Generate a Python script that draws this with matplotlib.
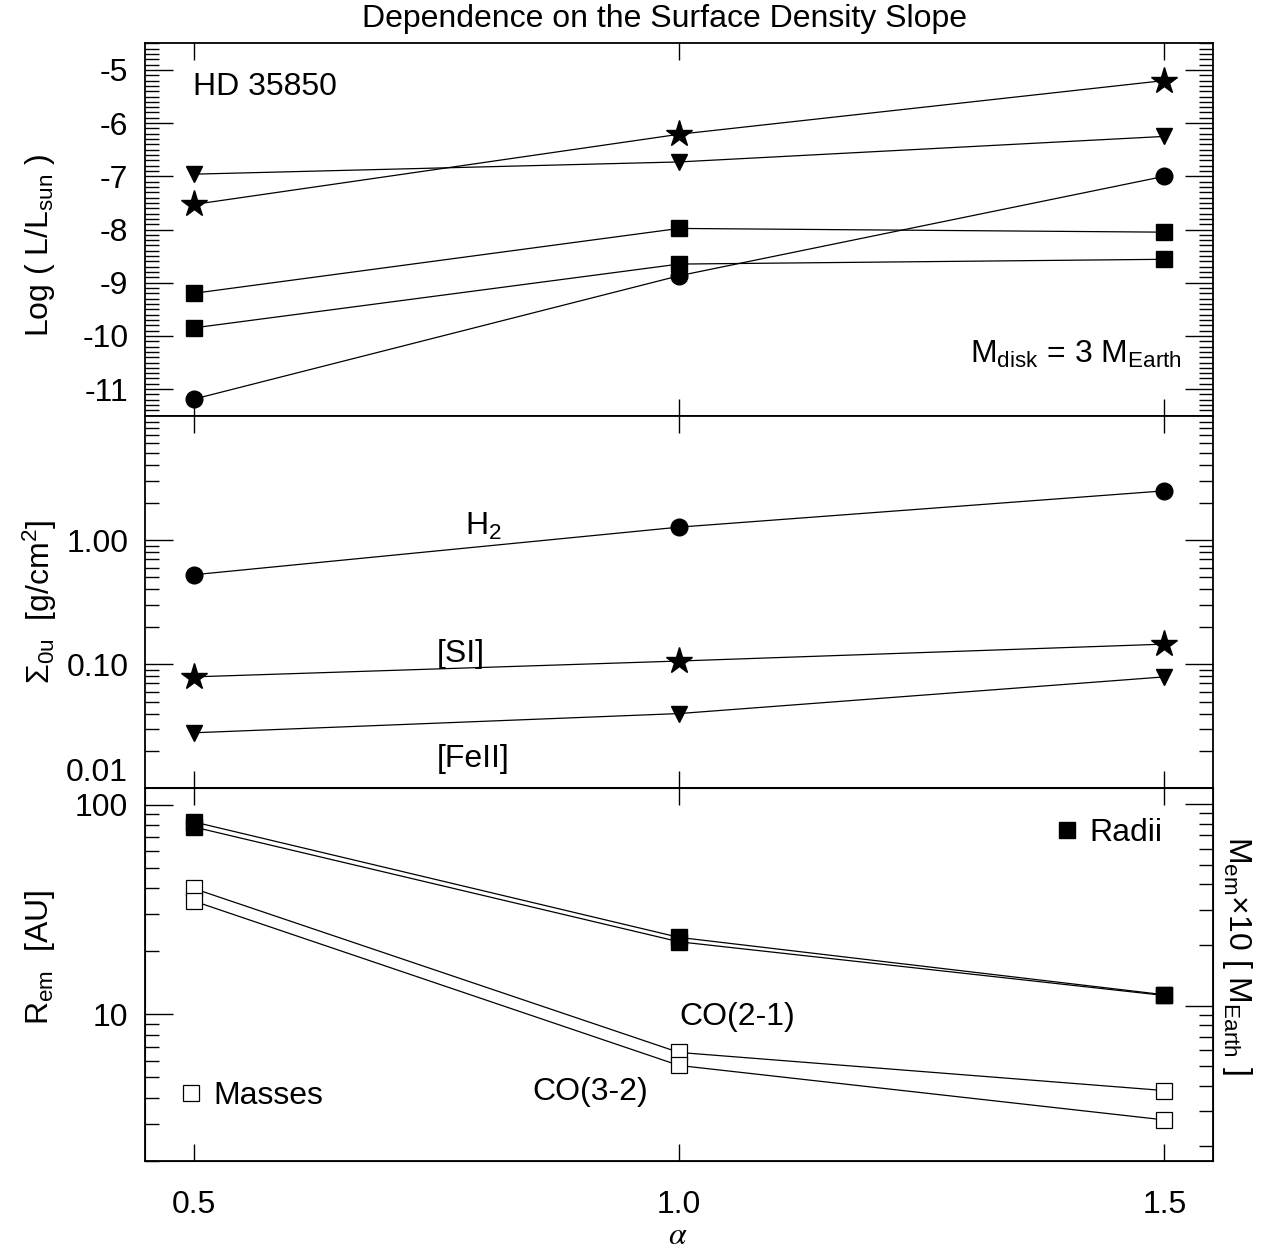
"""
Dependence of line luminosity, surface density and emitting radius/mass
on the surface density slope alpha (HD 35850).
"""

import numpy as np
import matplotlib
matplotlib.use("Agg")
import matplotlib.pyplot as plt
import matplotlib.transforms as mtransforms
from matplotlib.lines import Line2D
from matplotlib.ticker import MultipleLocator, FixedLocator, FuncFormatter, LogLocator, NullFormatter

plt.rcParams["font.family"] = ["Liberation Sans", "DejaVu Sans"]
plt.rcParams["mathtext.fontset"] = "custom"
plt.rcParams["mathtext.rm"] = "Liberation Sans"
plt.rcParams["mathtext.it"] = "Liberation Sans:italic"
plt.rcParams["axes.unicode_minus"] = False

# ─── DATA ─────────────────────────────────────────────────────────────────────
alpha = [0.5, 1.0, 1.5]

# top panel: log(L/Lsun)
lum_star   = [-7.53, -6.21, -5.20]
lum_tri    = [-6.96, -6.73, -6.25]
lum_circle = [-11.19, -8.87, -7.00]
lum_sq_a   = [-9.20, -7.98, -8.05]
lum_sq_b   = [-9.85, -8.65, -8.56]

# middle panel: Sigma_0u [g/cm^2]
sig_h2   = [0.525, 1.27, 2.49]
sig_si   = [0.079, 0.106, 0.145]
sig_feii = [0.028, 0.040, 0.079]

# bottom panel: radii [AU] (left axis) and masses x10 [M_Earth] (right axis)
radii_co21  = [83.0, 23.3, 12.4]
radii_co32  = [78.5, 22.2, 12.3]
masses_co21 = [38.2, 5.86, 3.79]
masses_co32 = [33.1, 5.05, 2.71]

W, H = 1262, 1251
fig = plt.figure(figsize=(W / 100, H / 100), dpi=100)

left, width = 145 / W, 1068 / W
ph = 372.4 / H
ax1 = fig.add_axes([left, 1 - 415.7 / H, width, ph])
ax2 = fig.add_axes([left, 1 - 788.3 / H, width, ph])
ax3 = fig.add_axes([left, 1 - 1160.7 / H, width, ph])

line_kw = dict(color="black", lw=0.9)
FS = 23


def style(ax, right=True):
    ax.set_xlim(0.45, 1.55)
    ax.xaxis.set_major_locator(FixedLocator(alpha))
    ax.tick_params(axis="x", which="major", direction="in", top=True, bottom=True,
                   length=12, width=1, labelsize=FS, pad=21)
    ax.tick_params(axis="y", which="major", direction="in", left=True, right=right,
                   length=20, width=1, labelsize=FS, pad=12)
    ax.tick_params(axis="y", which="minor", direction="in", left=True, right=right,
                   length=10, width=1)
    for sp in ax.spines.values():
        sp.set_linewidth(1.3)


# ─── TOP PANEL ────────────────────────────────────────────────────────────────
ax1.plot(alpha, lum_star, marker="*", ms=20, **line_kw)
ax1.plot(alpha, lum_tri, marker="v", ms=12, **line_kw)
ax1.plot(alpha, lum_circle, marker="o", ms=12, **line_kw)
ax1.plot(alpha, lum_sq_a, marker="s", ms=12, **line_kw)
ax1.plot(alpha, lum_sq_b, marker="s", ms=12, **line_kw)
ax1.set_ylim(-11.5, -4.5)
ax1.yaxis.set_major_locator(MultipleLocator(1))
ax1.yaxis.set_minor_locator(MultipleLocator(0.1))
ax1.yaxis.set_major_formatter(FuncFormatter(lambda v, p: f"{v:.0f}"))
style(ax1)
ax1.tick_params(axis="x", labelbottom=False)
ax1.text(0.045, 0.883, "HD 35850", transform=ax1.transAxes, fontsize=FS, va="center")
ax1.text(0.971, 0.142, r"M$_{\rm disk}$ = 3 M$_{\rm Earth}$", transform=ax1.transAxes,
         fontsize=FS, ha="right", va="baseline")

# ─── MIDDLE PANEL ─────────────────────────────────────────────────────────────
ax2.plot(alpha, sig_h2, marker="o", ms=12, **line_kw)
ax2.plot(alpha, sig_si, marker="*", ms=20, **line_kw)
ax2.plot(alpha, sig_feii, marker="v", ms=12, **line_kw)
ax2.set_yscale("log")
ax2.set_ylim(0.01, 10)
ax2.yaxis.set_major_locator(FixedLocator([0.01, 0.1, 1.0]))
ax2.yaxis.set_minor_locator(LogLocator(base=10, subs=np.arange(2, 10)))
# the 0.01 label is drawn separately, lifted above the panel boundary
ax2.yaxis.set_major_formatter(FuncFormatter(lambda v, p: "" if v < 0.05 else f"{v:.2f}"))
ax2.yaxis.set_minor_formatter(NullFormatter())
style(ax2)
ax2.tick_params(axis="x", labelbottom=False)
blend = mtransforms.blended_transform_factory(ax2.transAxes, ax2.transData)
ax2.text(-17 / 1068, 0.01, "0.01", transform=blend, fontsize=FS, ha="right", va="bottom")
ax2.text(0.2996, 0.680, r"H$_2$", transform=ax2.transAxes, fontsize=FS, va="baseline")
ax2.text(0.273, 0.340, "[SI]", transform=ax2.transAxes, fontsize=FS, va="baseline")
ax2.text(0.273, 0.058, "[FeII]", transform=ax2.transAxes, fontsize=FS, va="baseline")

# ─── BOTTOM PANEL ─────────────────────────────────────────────────────────────
ax3.plot(alpha, radii_co21, marker="s", ms=12, **line_kw)
ax3.plot(alpha, radii_co32, marker="s", ms=12, **line_kw)
ax3.set_yscale("log")
ax3.set_ylim(2, 120)
ax3.yaxis.set_major_locator(FixedLocator([10, 100]))
ax3.yaxis.set_minor_locator(LogLocator(base=10, subs=np.arange(2, 10)))
ax3.yaxis.set_major_formatter(FuncFormatter(lambda v, p: f"{v:.0f}"))
ax3.yaxis.set_minor_formatter(NullFormatter())
style(ax3, right=False)

ax3r = ax3.twinx()
ax3r.plot(alpha, masses_co21, marker="s", ms=12, mfc="white", mec="black", mew=0.9, **line_kw)
ax3r.plot(alpha, masses_co32, marker="s", ms=12, mfc="white", mec="black", mew=0.9, **line_kw)
ax3r.set_yscale("log")
ax3r.set_ylim(1.7, 120)
ax3r.yaxis.set_major_locator(FixedLocator([10, 100]))
ax3r.yaxis.set_minor_locator(LogLocator(base=10, subs=np.arange(2, 10)))
ax3r.yaxis.set_major_formatter(NullFormatter())
ax3r.yaxis.set_minor_formatter(NullFormatter())
ax3r.tick_params(axis="y", which="major", direction="in", length=20, width=1)
ax3r.tick_params(axis="y", which="minor", direction="in", length=10, width=1)
ax3r.set_xlim(0.45, 1.55)

ax3.text(0.5, 0.364, "CO(2-1)", transform=ax3.transAxes, fontsize=FS, va="baseline")
ax3.text(0.363, 0.163, "CO(3-2)", transform=ax3.transAxes, fontsize=FS, va="baseline")

radii_h = Line2D([], [], ls="none", marker="s", ms=12, color="black")
mass_h = Line2D([], [], ls="none", marker="s", ms=12, mfc="white", mec="black", mew=0.9)
leg1 = ax3r.legend([radii_h], ["Radii"], loc="center left", frameon=False, fontsize=FS,
                   handlelength=0.6, handletextpad=0.4, borderpad=0, borderaxespad=0,
                   bbox_to_anchor=((1057 - 145) / 1068, 1 - (833 - 788.3) / 372.4))
ax3r.add_artist(leg1)
ax3r.legend([mass_h], ["Masses"], loc="center left", frameon=False, fontsize=FS,
            handlelength=0.6, handletextpad=0.4, borderpad=0, borderaxespad=0,
            bbox_to_anchor=((181 - 145) / 1068, 1 - (1096 - 788.3) / 372.4))

ax3.set_xticklabels(["0.5", "1.0", "1.5"])

# ─── LABELS ───────────────────────────────────────────────────────────────────
fig.text(40 / W, 1 - 245 / H, r"Log ( L/L$_{\rm sun}$ )", rotation=90,
         fontsize=FS, ha="center", va="center")
fig.text(40 / W, 1 - 602 / H, r"Σ$_{\rm 0u}$  [g/cm$^2$]", rotation=90,
         fontsize=FS, ha="center", va="center")
fig.text(40 / W, 1 - 957 / H, r"R$_{\rm em}$  [AU]", rotation=90,
         fontsize=FS, ha="center", va="center")
fig.text(1237 / W, 1 - 955 / H, r"M$_{\rm em}$×10 [ M$_{\rm Earth}$ ]", rotation=270,
         fontsize=FS, ha="center", va="center")
fig.text(678 / W, 1 - 1236 / H, r"$\alpha$", fontsize=FS, ha="center", va="center",
         math_fontfamily="stix")
fig.text(665 / W, 1 - 19 / H, "Dependence on the Surface Density Slope",
         fontsize=23, ha="center", va="center")

fig.savefig("out.png", dpi=100, facecolor="white")
